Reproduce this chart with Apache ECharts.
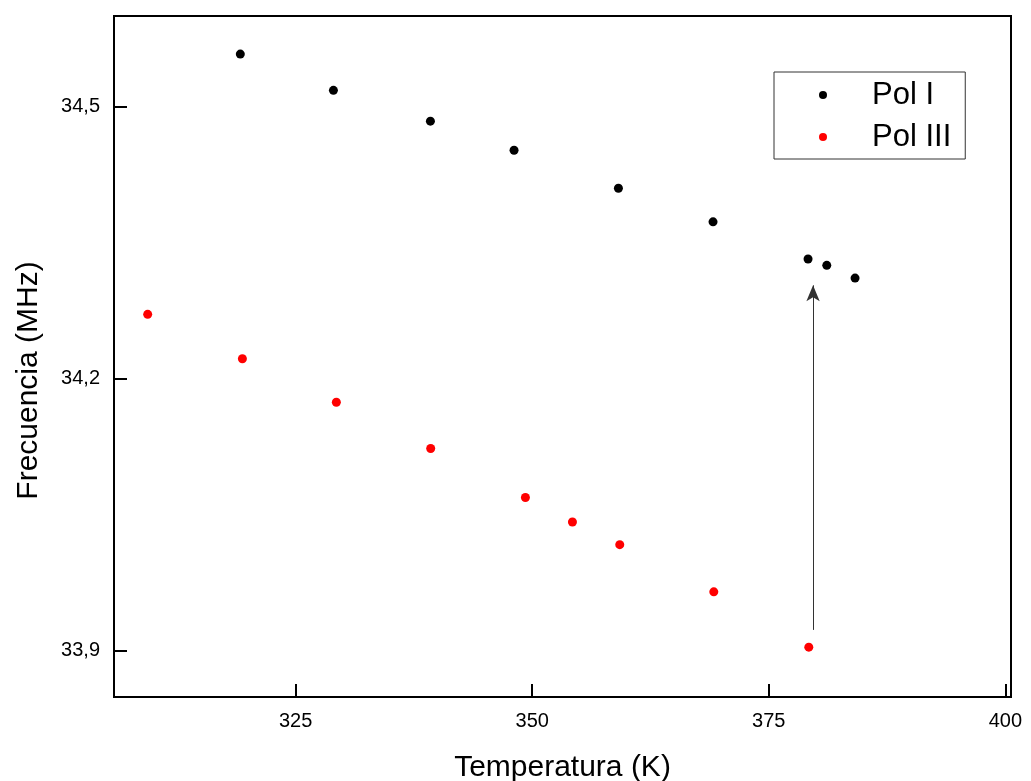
<!DOCTYPE html>
<html>
<head>
<meta charset="utf-8">
<script src="https://cdn.jsdelivr.net/npm/echarts@6/dist/echarts.min.js"></script>
<style>html,body{margin:0;padding:0;background:#fff;}#c{width:1031px;height:781px;}</style>
</head>
<body>
<div id="c"></div>
<script>
// Data
const polI_T = [319.15, 328.99, 339.24, 348.08, 359.11, 369.11, 379.15, 381.13, 384.12];
const polI_F = [34.558, 34.518, 34.484, 34.452, 34.410, 34.373, 34.332, 34.325, 34.311];
const polIII_T = [309.36, 319.37, 329.30, 339.27, 349.28, 354.25, 359.25, 369.19, 379.23];
const polIII_F = [34.271, 34.222, 34.174, 34.123, 34.069, 34.042, 34.017, 33.965, 33.904];
const arrowT = [379.68, 379.68];
const arrowF = [33.923, 34.303];
const xTicks = [325, 350, 375, 400];
const yTicks = [33.9, 34.2, 34.5];
const seriesNames = ['Pol I', 'Pol III'];

const FONT = '"Liberation Sans", Arial, sans-serif';
const chart = echarts.init(document.getElementById('c'), null, {renderer: 'canvas'});
const pairs = (xs, ys) => xs.map((x, i) => [x, ys[i]]);

chart.setOption({
  animation: false,
  backgroundColor: '#fff',
  grid: {left: 114, top: 16, right: 20, bottom: 84, show: true, borderColor: '#000', borderWidth: 2,
    backgroundColor: 'transparent', containLabel: false, outerBoundsMode: 'none'},
  legend: {
    orient: 'vertical', left: 774, top: 72,
    data: [{name: seriesNames[0], icon: 'circle'}, {name: seriesNames[1], icon: 'circle'}],
    itemWidth: 88, itemHeight: 8, itemGap: 10,
    padding: [7, 14, 6, 45],
    borderColor: '#333', borderWidth: 1,
    itemStyle: {opacity: 1},
    textStyle: {fontFamily: FONT, fontSize: 31, color: '#000', lineHeight: 32}
  },
  xAxis: {
    type: 'value', min: 305.8, max: 400.6,
    name: 'Temperatura (K)', nameLocation: 'middle', nameGap: 56,
    nameTextStyle: {fontFamily: FONT, fontSize: 30, color: '#000'},
    axisLine: {show: true, lineStyle: {color: '#000', width: 2}},
    axisTick: {show: true, inside: true, length: 13, lineStyle: {color: '#000', width: 2}, customValues: xTicks},
    axisLabel: {fontFamily: FONT, fontSize: 20, color: '#000', margin: 14, customValues: xTicks, formatter: v => String(v)},
    splitLine: {show: false}
  },
  yAxis: {
    type: 'value', min: 33.849, max: 34.600,
    name: 'Frecuencia (MHz)', nameLocation: 'middle', nameGap: 70,
    nameTextStyle: {fontFamily: FONT, fontSize: 30, color: '#000', padding: [0, 48, 0, 0]},
    axisLine: {show: true, lineStyle: {color: '#000', width: 2}},
    axisTick: {show: true, inside: true, length: 13, lineStyle: {color: '#000', width: 2}, customValues: yTicks},
    axisLabel: {fontFamily: FONT, fontSize: 20, color: '#000', margin: 14, customValues: yTicks,
      formatter: v => v.toFixed(1).replace('.', ',')},
    splitLine: {show: false}
  },
  series: [
    {
      name: seriesNames[0], type: 'scatter', symbol: 'circle', symbolSize: 9,
      itemStyle: {color: '#000', opacity: 1},
      data: pairs(polI_T, polI_F)
    },
    {
      name: seriesNames[1], type: 'scatter', symbol: 'circle', symbolSize: 9,
      itemStyle: {color: '#ff0000', opacity: 1},
      data: pairs(polIII_T, polIII_F),
      markLine: {
        silent: true, symbol: ['none', 'arrow'], symbolSize: [10, 16],
        label: {show: false},
        lineStyle: {color: '#333', width: 1, type: 'solid', opacity: 1},
        data: [[{coord: [arrowT[0], arrowF[0]]}, {coord: [arrowT[1], arrowF[1]]}]]
      }
    }
  ]
});
</script>
</body>
</html>
